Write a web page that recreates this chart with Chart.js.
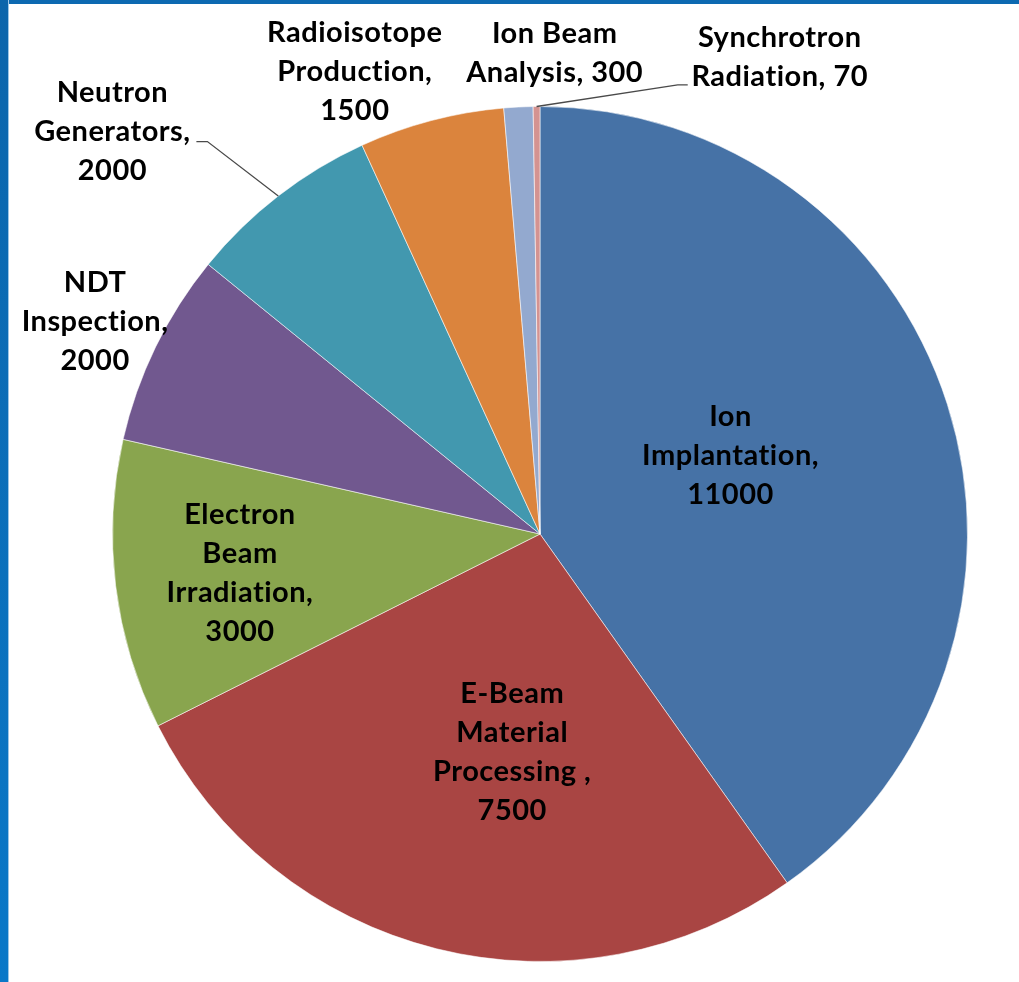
<!DOCTYPE html>
<html>
<head>
<meta charset="utf-8">
<script src="https://cdn.jsdelivr.net/npm/chart.js@4.4.1/dist/chart.umd.min.js"></script>
<style>
  html, body { margin: 0; padding: 0; background: #fff; }
  #wrap { position: relative; width: 1019px; height: 982px; overflow: hidden; }
  #wrap canvas { position: absolute; left: 0; top: 0; }
  .barTop { position: absolute; left: 0; top: 0; width: 1019px; height: 4px; background: #0d69b1; }
  .barLeft { position: absolute; left: 0; top: 0; width: 8px; height: 982px; background: linear-gradient(#0b65ab, #0a78c8); border-right: 1px solid #9cc6e6; }
</style>
</head>
<body>
<div id="wrap">
  <canvas id="pie" width="1019" height="982"></canvas>
  <div class="barTop"></div>
  <div class="barLeft"></div>
</div>
<script>
// data
var categories = [
  "Ion\nImplantation",
  "E-Beam\nMaterial\nProcessing ",
  "Electron\nBeam\nIrradiation",
  "NDT\nInspection",
  "Neutron\nGenerators",
  "Radioisotope\nProduction",
  "Ion Beam\nAnalysis",
  "Synchrotron\nRadiation"
];
var values = [11000, 7500, 3000, 2000, 2000, 1500, 300, 70];
var colors = ["#4672a6", "#a94543", "#89a54e", "#71588f", "#4298af", "#db843d", "#93a9cf", "#d49391"];

// where each label sits: k = fraction of radius along the slice middle, then a nudge
var placement = [
  { k: 0.48, dx: -5, dy: -16 },
  { k: 0.51, dx: 25, dy: 7 },
  { k: 0.707, dx: 0, dy: 3 },
  { k: 1.16, dx: 1, dy: 5 },
  { k: 1.374, dx: -68, dy: 62, leader: [[95, 10], [84, 10]] },
  { k: 1.17, dx: -58, dy: 21 },
  { k: 1.127, dx: 39, dy: 0, inline: true },
  { k: 1.245, dx: 244, dy: 55, inline: true, leader: [[-102, 28], [-92, 28]] }
];

var FONT = "bold 29px Lato, 'Open Sans', sans-serif";
var LINE_H = 39;

var pieLabels = {
  id: "pieLabels",
  afterDatasetsDraw: function (chart) {
    var ctx = chart.ctx;
    var arcs = chart.getDatasetMeta(0).data;
    ctx.save();
    ctx.font = FONT;
    ctx.letterSpacing = "0.5px"; // also stops the "ti" ligature
    ctx.fillStyle = "#000";
    ctx.textAlign = "center";
    ctx.textBaseline = "middle";
    arcs.forEach(function (arc, i) {
      var p = arc.getProps(["x", "y", "startAngle", "endAngle", "outerRadius"], true);
      var mid = (p.startAngle + p.endAngle) / 2;
      var pl = placement[i];
      var cx = p.x + Math.cos(mid) * p.outerRadius * pl.k + pl.dx;
      var cy = p.y + Math.sin(mid) * p.outerRadius * pl.k + pl.dy;

      var text = categories[i] + (pl.inline ? ", " : ",\n") + values[i];
      var lines = text.split("\n");
      var top = cy - (lines.length - 1) * LINE_H / 2;
      lines.forEach(function (ln, j) {
        ctx.fillText(ln, cx, top + j * LINE_H);
      });

      if (pl.leader) {
        ctx.strokeStyle = "#4a4a4a";
        ctx.lineWidth = 1.3;
        ctx.beginPath();
        ctx.moveTo(p.x + Math.cos(mid) * p.outerRadius, p.y + Math.sin(mid) * p.outerRadius);
        pl.leader.forEach(function (o) { ctx.lineTo(cx + o[0], cy + o[1]); });
        ctx.stroke();
      }
    });
    ctx.restore();
  }
};

new Chart(document.getElementById("pie"), {
  type: "pie",
  data: {
    labels: categories,
    datasets: [{
      data: values,
      backgroundColor: colors,
      borderColor: "rgba(255,255,255,0.55)",
      borderWidth: 1
    }]
  },
  options: {
    responsive: false,
    animation: false,
    layout: { padding: { left: 112, right: 51, top: 106, bottom: 20 } },
    plugins: {
      legend: { display: false },
      tooltip: { enabled: false }
    }
  },
  plugins: [pieLabels]
});
</script>
</body>
</html>
